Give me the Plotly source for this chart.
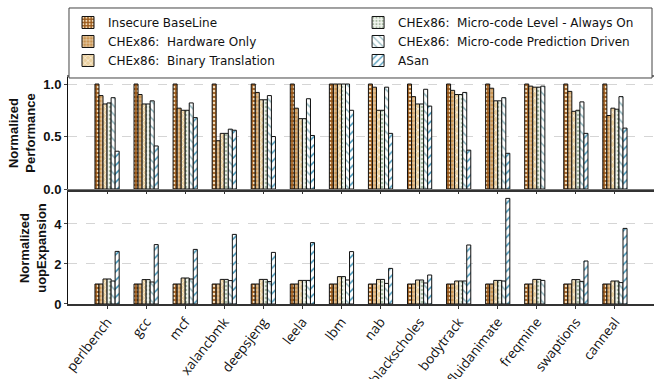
import plotly.graph_objects as go

benchmarks = ["perlbench", "gcc", "mcf", "xalancbmk", "deepsjeng", "leela", "lbm",
              "nab", "blackscholes", "bodytrack", "fluidanimate", "freqmine",
              "swaptions", "canneal"]

series_names = [
    "Insecure BaseLine",
    "CHEx86:  Hardware Only",
    "CHEx86:  Binary Translation",
    "CHEx86:  Micro-code Level - Always On",
    "CHEx86:  Micro-code Prediction Driven",
    "ASan",
]

# Normalized performance (top panel)
perf_baseline = [1.0] * 14
perf_hw_only = [0.89, 0.90, 0.77, 0.46, 0.92, 0.77, 1.00, 0.97, 0.88, 0.94, 0.96, 0.98, 0.93, 0.70]
perf_binary = [0.81, 0.81, 0.75, 0.53, 0.85, 0.67, 1.00, 0.75, 0.81, 0.90, 0.84, 0.97, 0.74, 0.77]
perf_always_on = [0.82, 0.81, 0.75, 0.53, 0.85, 0.67, 1.00, 0.75, 0.81, 0.90, 0.84, 0.97, 0.75, 0.76]
perf_predict = [0.87, 0.84, 0.82, 0.57, 0.89, 0.86, 1.00, 0.97, 0.95, 0.92, 0.87, 0.98, 0.83, 0.88]
perf_asan = [0.36, 0.41, 0.68, 0.56, 0.50, 0.51, 0.75, 0.53, 0.79, 0.37, 0.34, None, 0.53, 0.58]

# Normalized uop expansion (bottom panel)
uop_baseline = [1.0] * 14
uop_hw_only = [1.0] * 14
uop_binary = [1.25, 1.22, 1.30, 1.23, 1.23, 1.18, 1.37, 1.23, 1.20, 1.15, 1.18, 1.23, 1.22, 1.15]
uop_always_on = [1.25, 1.22, 1.30, 1.23, 1.23, 1.18, 1.37, 1.23, 1.20, 1.15, 1.18, 1.23, 1.22, 1.15]
uop_predict = [1.15, 1.10, 1.25, 1.17, 1.12, 1.18, 1.20, 1.03, 1.05, 1.15, 1.15, 1.18, 1.13, 1.07]
uop_asan = [2.63, 2.97, 2.73, 3.48, 2.58, 3.07, 2.62, 1.78, 1.45, 2.95, 5.28, None, 2.15, 3.78]

perf_series = [perf_baseline, perf_hw_only, perf_binary, perf_always_on, perf_predict, perf_asan]
uop_series = [uop_baseline, uop_hw_only, uop_binary, uop_always_on, uop_predict, uop_asan]

# pattern styles: (shape, background, foreground, size, solidity)
styles = [
    (".", "#9a5a1c", "#f3dcb8", 4, 0.35),
    ("+", "#c99452", "#fbf1e2", 4, 0.25),
    ("x", "#ead0a0", "#fffaf0", 5, 0.25),
    (".", "#f2f5ef", "#a9bca3", 4, 0.35),
    ("\\", "#ffffff", "#8db4bc", 6, 0.25),
    ("/", "#ffffff", "#3b90b4", 6, 0.25),
]
# the first three series go in the left legend column, the rest in the right one
legend_column = ["legend", "legend", "legend", "legend2", "legend2", "legend2"]

fig = go.Figure()
for i, name in enumerate(series_names):
    shape, bg, fg, size, sol = styles[i]
    pattern = dict(shape=shape, bgcolor=bg, fgcolor=fg, size=size, solidity=sol,
                   fillmode="replace")
    fig.add_trace(go.Bar(
        x=benchmarks, y=perf_series[i], name=name, legend=legend_column[i],
        marker=dict(color=bg, pattern=pattern, line=dict(color="#111111", width=1)),
        xaxis="x", yaxis="y",
    ))
    fig.add_trace(go.Bar(
        x=benchmarks, y=uop_series[i], name=name, showlegend=False,
        marker=dict(color=bg, pattern=pattern, line=dict(color="#111111", width=1)),
        xaxis="x2", yaxis="y2",
    ))

tick_font = dict(family="Liberation Sans", size=13, color="#111111")
title_font = dict(family="Liberation Sans", size=13, color="#111111")
legend_font = dict(family="DejaVu Sans", size=12, color="#111111")

fig.update_layout(
    width=654, height=379,
    margin=dict(l=68, r=0, t=77, b=75),
    paper_bgcolor="white", plot_bgcolor="white",
    barmode="group", bargap=0.38, bargroupgap=0,
    font=dict(family="DejaVu Sans", size=12, color="#111111"),
    showlegend=True,
    legend=dict(
        orientation="v", x=0.0, y=1.304, xanchor="left", yanchor="top",
        bgcolor="rgba(0,0,0,0)", borderwidth=0, font=legend_font,
        traceorder="normal",
    ),
    legend2=dict(
        orientation="v", x=0.495, y=1.304, xanchor="left", yanchor="top",
        bgcolor="rgba(0,0,0,0)", borderwidth=0, font=legend_font,
        traceorder="normal",
    ),
    # frame around both legend columns
    shapes=[dict(
        type="rect", xref="paper", yref="paper",
        x0=0.0017, x1=0.9966, y0=0.9956, y1=1.304,
        line=dict(color="#444444", width=1), fillcolor="white", layer="above",
    )],
    xaxis=dict(
        domain=[0, 1], anchor="y", type="category", range=[-1, 14],
        showticklabels=False, ticks="outside", ticklen=3, tickcolor="#333333",
        showline=True, linecolor="#777777", linewidth=2, mirror=True,
        showgrid=False, automargin=False,
    ),
    yaxis=dict(
        domain=[0.5066, 1], anchor="x", range=[0, 1.067],
        tickvals=[0, 0.5, 1.0], ticktext=["<b>0.0</b>", "<b>0.5</b>", "<b>1.0</b>"],
        tickfont=tick_font, ticks="outside", ticklen=3,
        showline=True, linecolor="#111111", linewidth=1,
        showgrid=True, gridcolor="#d5d5d5", griddash="dash", gridwidth=1,
        zeroline=False, automargin=False,
        title=dict(text="<b>Normalized<br>Performance</b>", font=title_font, standoff=4),
    ),
    xaxis2=dict(
        domain=[0, 1], anchor="y2", type="category", range=[-1, 14],
        tickangle=-52, tickfont=dict(family="Open Sans", size=13.5, color="#111111"),
        ticks="outside", ticklen=3, tickcolor="#333333",
        showline=True, linecolor="#333333", linewidth=1.5, mirror=True,
        showgrid=False, automargin=False,
    ),
    yaxis2=dict(
        domain=[0, 0.4934], anchor="x2", range=[0, 5.6],
        tickvals=[0, 2, 4], ticktext=["<b>0</b>", "<b>2</b>", "<b>4</b>"],
        tickfont=tick_font, ticks="outside", ticklen=3,
        showline=True, linecolor="#111111", linewidth=1,
        showgrid=True, gridcolor="#d5d5d5", griddash="dash", gridwidth=1,
        zeroline=False, automargin=False,
        title=dict(text="<b>Normalized<br>uopExpansion</b>", font=title_font, standoff=4),
    ),
)

fig.write_html("out.html")
